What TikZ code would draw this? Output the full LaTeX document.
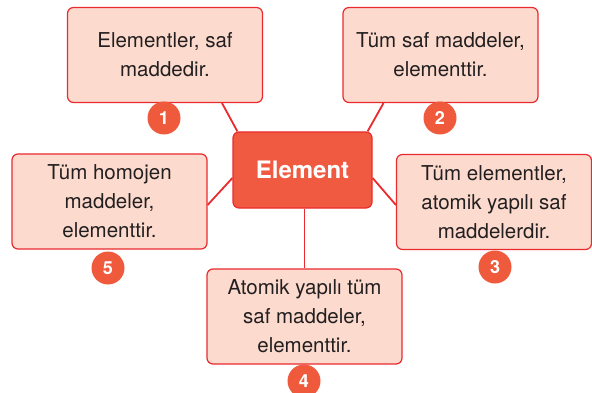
\documentclass[tikz,border=0pt]{standalone}
\usepackage{fontspec}
\setmainfont{TeX Gyre Heros}
\usetikzlibrary{calc}
\definecolor{boxfill}{HTML}{FCDBCE}
\definecolor{boxline}{HTML}{EA2A2E}
\definecolor{hubfill}{HTML}{F05A40}
\definecolor{badgefill}{HTML}{EF5A3D}
\definecolor{inktext}{HTML}{231F20}
\tikzset{
  idea/.style={draw=boxline, line width=1.2pt, fill=boxfill, rounded corners=6pt,
    minimum width=195pt, minimum height=95pt, align=center, text=inktext,
    inner sep=0pt, font=\fontsize{20.5}{29}\selectfont},
  hub/.style={draw=boxline, line width=1.2pt, fill=hubfill, rounded corners=6pt,
    minimum width=139pt, minimum height=76pt, text=white,
    font=\fontsize{24}{28}\selectfont\bfseries},
  badge/.style={circle, fill=badgefill, minimum size=33pt, inner sep=0pt,
    text=white, font=\fontsize{18}{20}\selectfont\bfseries},
  link/.style={draw=boxline, line width=1.8pt}
}
\begin{document}
\begin{tikzpicture}[x=1pt, y=-1pt]
  \clip (0,0) rectangle (592,393);
  \fill[white] (0,0) rectangle (592,393);

  % central concept
  \node[hub] (c) at (302.5,170) {Element};

  % statements around it
  \node[idea] (b1) at (165,55)    {Elementler, saf\\maddedir.};
  \node[idea] (b2) at (440.5,55)  {Tüm saf maddeler,\\elementtir.};
  \node[idea] (b3) at (494,202)   {Tüm elementler,\\atomik yapılı saf\\maddelerdir.};
  \node[idea] (b4) at (304.5,316.5) {Atomik yapılı tüm\\saf maddeler,\\elementtir.};
  \node[idea] (b5) at (109.5,201.5) {Tüm homojen\\maddeler,\\elementtir.};

  % numbered badges
  \node[badge] (n1) at (164,118) {1};
  \node[badge] (n2) at (440,118) {2};
  \node[badge] (n3) at (495,267) {3};
  \node[badge] (n4) at (304,381) {4};
  \node[badge] (n5) at (108,268) {5};

  % connectors from the hub to each statement
  \draw[link] ([xshift=57pt]b1.south) -- ([xshift=5pt]c.north west);
  \draw[link] ([xshift=-57pt]b2.south) -- ([xshift=-5pt]c.north east);
  \draw[link] ([yshift=-8pt]c.east) -- ([yshift=-3pt]b3.west);
  \draw[link] (b4.north |- c.south) -- (b4.north);
  \draw[link] ([yshift=-8pt]c.west) -- ([yshift=-3.5pt]b5.east);
\end{tikzpicture}
\end{document}
